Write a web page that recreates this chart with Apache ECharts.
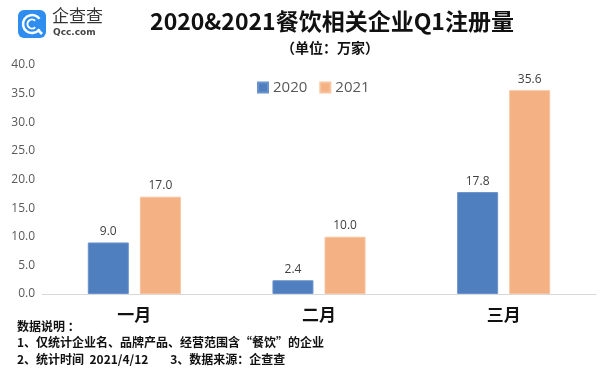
<!DOCTYPE html>
<html><head><meta charset="utf-8">
<script src="https://cdn.jsdelivr.net/npm/echarts@6/dist/echarts.min.js"></script>
<style>html,body{margin:0;padding:0;background:#fff}#c{width:600px;height:380px}</style>
</head><body><div id="c"></div>
<script>
var categories = ['一月', '二月', '三月'];
var seriesNames = ['2020', '2021'];
var values2020 = [9.0, 2.4, 17.8];
var values2021 = [17.0, 10.0, 35.6];
var titleText = '2020&2021餐饮相关企业Q1注册量';
var subtitleText = '（单位：万家）';
var notes = ['数据说明 ：', '1、仅统计企业名、品牌产品、经营范围含“餐饮”的企业', '2、统计时间  2021/4/12        3、数据来源：企查查'];

var cjk = '"Noto Sans CJK SC", "Noto Sans", sans-serif';
var chart = echarts.init(document.getElementById('c'));
chart.setOption({
  backgroundColor: '#fff',
  animation: false,
  title: [
    {text: titleText, left: 327, top: 5, textAlign: 'center',
     textStyle: {fontFamily: cjk, fontSize: 23, fontWeight: 'bold', color: '#111'}},
    {text: subtitleText, left: 325, top: 36, textAlign: 'center',
     textStyle: {fontFamily: cjk, fontSize: 14, fontWeight: 'bold', color: '#111'}}
  ],
  legend: {
    data: seriesNames, left: 252, top: 75, itemWidth: 10, itemHeight: 10, itemGap: 12,
    icon: 'rect',
    textStyle: {fontFamily: '"Open Sans", "Noto Sans", sans-serif', fontSize: 15, color: '#595959'}
  },
  grid: {left: 42, right: 4, top: 65, bottom: 86},
  xAxis: {
    type: 'category', data: categories,
    axisLine: {lineStyle: {color: '#d9d9d9'}},
    axisTick: {show: false},
    axisLabel: {fontFamily: cjk, fontSize: 17, fontWeight: 'bold', color: '#111', margin: 12}
  },
  yAxis: {
    type: 'value', min: 0, max: 40, interval: 5,
    splitLine: {show: false},
    axisLine: {show: false}, axisTick: {show: false},
    axisLabel: {formatter: function(v){return v.toFixed(1);}, fontFamily: '"Open Sans", sans-serif',
      fontSize: 12, color: '#595959', margin: 7}
  },
  series: [
    {name: seriesNames[0], type: 'bar', data: values2020, barWidth: 41, barGap: '27%',
     itemStyle: {color: '#4f7fbe', borderColor: '#6a93cc', borderWidth: 1},
     label: {show: true, position: 'top', formatter: function(p){return p.value.toFixed(1);},
       fontFamily: '"Open Sans", sans-serif', fontSize: 12, color: '#404040', distance: 5}},
    {name: seriesNames[1], type: 'bar', data: values2021, barWidth: 41,
     itemStyle: {color: '#f4b183', borderColor: '#f7c49f', borderWidth: 1},
     label: {show: true, position: 'top', formatter: function(p){return p.value.toFixed(1);},
       fontFamily: '"Open Sans", sans-serif', fontSize: 12, color: '#404040', distance: 5}}
  ],
  graphic: [
    {type: 'rect', left: 18, top: 10, shape: {width: 28, height: 28, r: 6}, style: {fill: '#2f8df0'}},
    {type: 'arc', shape: {cx: 32, cy: 24, r: 9, startAngle: 0.6, endAngle: -0.6 + Math.PI * 2}, style: {stroke: '#fff', lineWidth: 2.5, fill: null}},
    {type: 'arc', shape: {cx: 32, cy: 24, r: 4.5, startAngle: 0.8, endAngle: -0.8 + Math.PI * 2}, style: {stroke: '#fff', lineWidth: 2, fill: null}},
    {type: 'line', shape: {x1: 38, y1: 30, x2: 42, y2: 34}, style: {stroke: '#fff', lineWidth: 2.5}},
    {type: 'text', left: 52, top: 7, style: {text: '企查查', fontFamily: cjk, fontSize: 17, fill: '#333'}},
    {type: 'text', left: 53, top: 28, style: {text: 'Qcc.com', fontFamily: '"DejaVu Sans", sans-serif', fontSize: 9, fontWeight: 'bold', fill: '#444'}},
    {type: 'text', left: 17, top: 320, style: {text: notes[0], fontFamily: cjk, fontSize: 12, fontWeight: 'bold', fill: '#111'}},
    {type: 'text', left: 17, top: 336, style: {text: notes[1], fontFamily: cjk, fontSize: 12, fontWeight: 'bold', fill: '#111'}},
    {type: 'text', left: 17, top: 353, style: {text: notes[2], fontFamily: cjk, fontSize: 12, fontWeight: 'bold', fill: '#111'}}
  ]
});
</script></body></html>
